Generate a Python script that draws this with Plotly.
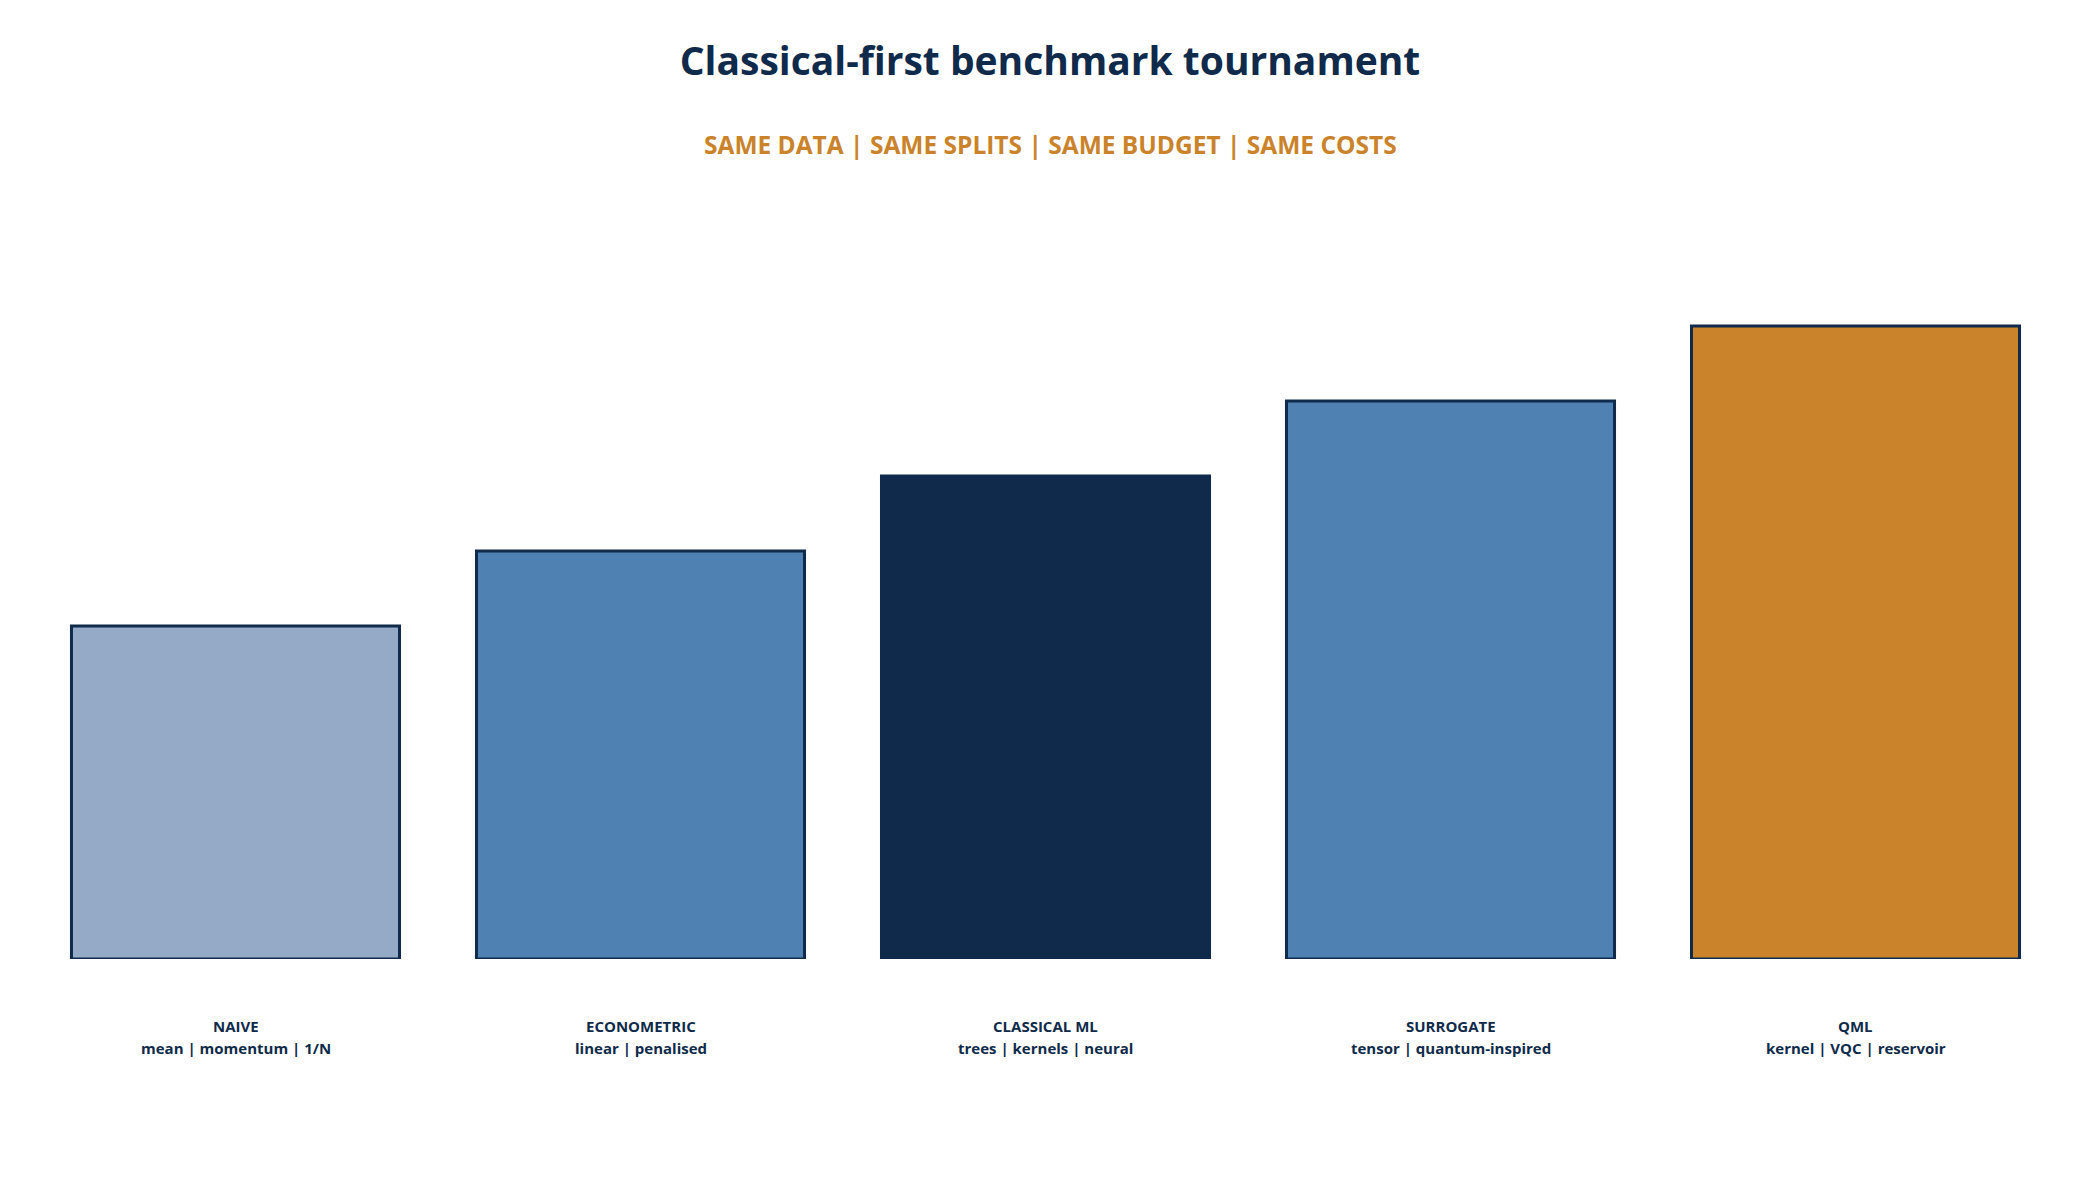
import plotly.graph_objects as go

# tournament stages, left to right
stages = ["NAIVE", "ECONOMETRIC", "CLASSICAL ML", "SURROGATE", "QML"]
methods = ["mean | momentum | 1/N", "linear | penalised", "trees | kernels | neural",
           "tensor | quantum-inspired", "kernel | VQC | reservoir"]
levels = [2.22, 2.72, 3.22, 3.72, 4.22]
fills = ["#95AAC7", "#4F81B3", "#0F2A4A", "#4F81B3", "#CA832A"]

navy = "#0F2A4A"
orange = "#CA832A"
font = "Open Sans"

fig = go.Figure()
fig.add_trace(go.Bar(
    x=stages, y=levels,
    marker=dict(color=fills, line=dict(color=navy, width=3)),
    hoverinfo="skip", showlegend=False,
))

# two-line labels under each bar
for s, m in zip(stages, methods):
    fig.add_annotation(x=s, y=-0.093, xref="x", yref="paper", text="<b>%s</b>" % s,
                       showarrow=False, yanchor="middle",
                       font=dict(family=font, size=15, color=navy))
    fig.add_annotation(x=s, y=-0.123, xref="x", yref="paper", text="<b>%s</b>" % m,
                       showarrow=False, yanchor="middle",
                       font=dict(family=font, size=15, color=navy))

fig.add_annotation(
    x=0.5025, y=1.131, xref="paper", yref="paper",
    text="<b>SAME DATA | SAME SPLITS | SAME BUDGET | SAME COSTS</b>",
    showarrow=False, yanchor="middle",
    font=dict(family=font, size=24.5, color=orange),
)

fig.update_layout(
    width=2100, height=1180,
    margin=dict(l=25, r=50, t=231, b=229),
    title=dict(text="<b>Classical-first benchmark tournament</b>", x=0.4962, xanchor="center",
               y=1 - 53 / 1180, yanchor="middle", yref="container",
               font=dict(family=font, size=39, color=navy)),
    plot_bgcolor="white", paper_bgcolor="white",
    bargap=0.19,
    xaxis=dict(showticklabels=False, showgrid=False, zeroline=False, showline=False, ticks=""),
    yaxis=dict(range=[0, 4.8], visible=False, showgrid=False, zeroline=False),
)

fig.write_html("out.html")
